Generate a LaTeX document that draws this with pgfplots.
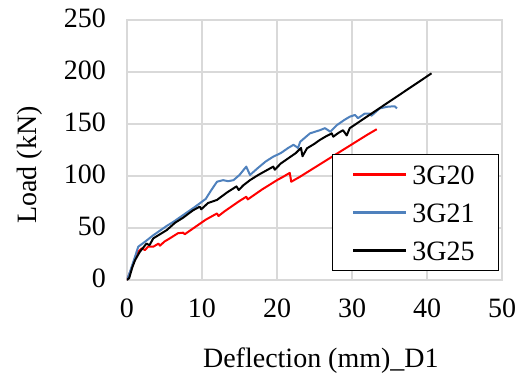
\documentclass[border=0pt]{standalone}
\usepackage{fontspec}
\setmainfont{Liberation Serif}
\usepackage{pgfplots}
\pgfplotsset{compat=1.18}
\definecolor{gridgray}{HTML}{D9D9D9}
\definecolor{xlblue}{HTML}{4F81BD}
\newcommand{\bigf}{\fontsize{28bp}{33bp}\selectfont}
\begin{document}
\begin{tikzpicture}
\begin{axis}[name=ax, at={(0,0)}, anchor=south west,
  scale only axis, width=375bp, height=260bp,
  xmin=0, xmax=50, ymin=0, ymax=250,
  xtick={0,10,...,50}, ytick={0,50,...,250},
  grid=major, major grid style={gridgray, line width=1.3bp},
  axis line style={gridgray, line width=1.3bp},
  major tick length=0pt,
  /pgf/number format/assume math mode=true,
  tick label style={font=\bigf, text=black},
  xticklabel style={yshift=-15.5bp},
  yticklabel style={xshift=-17.5bp, yshift=1.5bp},
  xlabel={Deflection (mm)\_D1}, ylabel={Load (kN)},
  label style={font=\bigf},
  xlabel style={at={(axis description cs:0.517,-0.338)}, anchor=base},
  ylabel style={at={(axis description cs:-0.24,0.442)}, anchor=base},
  legend cell align=left,
  legend style={at={(0.546,0.485)}, anchor=north west, draw=black, line width=1.2bp,
    font=\bigf, inner xsep=20bp, inner ysep=10bp, row sep=18bp,
    nodes={inner sep=0pt, text height=20bp, text depth=0bp, text width=66bp},
    /tikz/every odd column/.style={column sep=5bp}},
  legend image code/.code={\draw[#1, line width=2bp] (0bp,0bp) -- (53bp,0bp);},
  every axis plot/.append style={line width=2bp, line join=round}
]
\addplot[red] coordinates {(0,0) (0.5,9) (1.0,19) (1.3,25.6) (1.96,30.5) (2.4,28.8) (2.8,32) (3.5,32) (4.2,35) (4.4,33) (5,37) (5.7,40) (6.8,45) (7.5,45.5) (7.7,44) (8.5,48) (9.5,53) (10.5,58) (11.5,62) (12,64) (12.2,61.5) (13,66) (14,71) (15,76) (15.9,80) (16.1,77.5) (17,82) (18,87) (19,91.5) (20,96) (21,100) (21.7,103) (21.9,94.5) (23,99) (24,103.5) (25,108) (26,112.5) (27,117) (28,121.5) (29,126) (30,130.5) (31,135) (32,139.5) (33.3,145)};
\addlegendentry{3G20}
\addplot[xlblue] coordinates {(0,0) (0.5,10) (1.07,22.4) (1.5,32) (2.4,36.8) (3.5,43) (4.5,48) (5.3,52) (6.2,56) (7,60) (8,65) (9,70) (9.7,73.7) (10.5,78) (11.2,86) (12,94.5) (12.8,96) (13.5,95) (14.2,96) (15,101) (15.9,109) (16.4,101) (17.5,108) (18.5,114) (19.5,118.6) (20.5,122) (21.5,127) (22.2,130) (22.8,127) (23.1,133) (24.4,141) (25.7,144) (26.4,146) (27.1,142.6) (28,149) (29,154) (29.7,157) (30.4,158.7) (30.8,155.6) (31.7,160) (32.4,160) (32.6,158) (33.7,165) (34.8,166.7) (35.7,167) (36,165)};
\addlegendentry{3G21}
\addplot[black] coordinates {(0,0) (0.3,2) (0.7,12) (1.07,19) (1.7,27) (2.6,35) (3.0,33.5) (3.5,40) (4.4,44) (5.3,48) (6.4,55) (7.5,60) (8.8,67) (9.7,70.5) (9.9,68) (10.8,74) (12,77) (13.3,84) (14.6,90) (14.9,86.5) (15.5,91) (16.4,96) (17.5,101) (18.5,105) (19.5,109) (19.7,106) (20.5,112) (21.5,117) (22.5,122) (23.2,127) (23.4,119) (24,126.6) (25,131) (25.7,134.6) (26.5,138) (27.3,141) (27.5,137.8) (28.2,141.5) (28.8,144) (29.3,139) (29.7,146) (40.6,198.7)};
\addlegendentry{3G25}
\end{axis}
\pgfresetboundingbox
\path[use as bounding box] (ax.south west) ++(-127bp,-99bp) rectangle ++(523bp,379bp);
\end{tikzpicture}
\end{document}
